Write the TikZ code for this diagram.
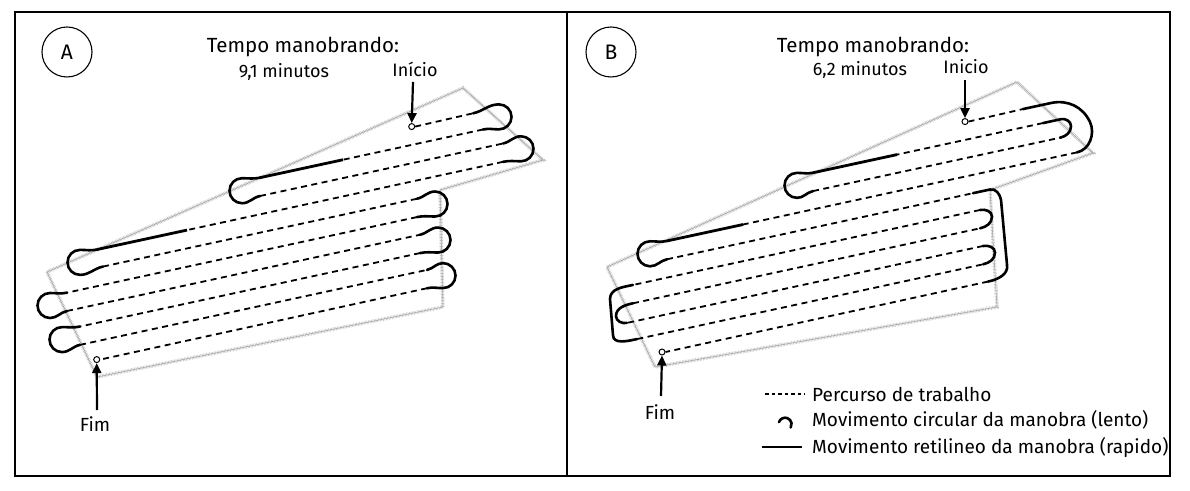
\documentclass[tikz,border=0pt]{standalone}
\usepackage{fontspec}
\setmainfont{Fira Sans}
\usetikzlibrary{arrows.meta}
\newcommand\Y[2]{274.5-18.33*(#1-1)+0.216*(#2)}
\newcommand\LP[2]{(#2,{\Y{#1}{#2}})}
\newcommand\loopR[4]{\draw[turn] (#2,{\Y{#1}{#2}}) to[out=12,in=180] (#4,{\Y{#1+0.5}{#4}+12.5}) arc[start angle=90,end angle=-90,radius=12.5] to[out=180,in=12] (#3,{\Y{#1+1}{#3}});}
\newcommand\loopL[4]{\draw[turn] (#2,{\Y{#1}{#2}}) to[out=192,in=0] (#4,{\Y{#1+0.5}{#4}+12.5}) arc[start angle=90,end angle=270,radius=12.5] to[out=0,in=192] (#3,{\Y{#1+1}{#3}});}
\tikzset{
 work/.style={line width=1.8pt, dash pattern=on 6pt off 4.5pt},
 turn/.style={line width=2.6pt, line cap=round},
 straightm/.style={line width=2.8pt},
 field/.style={gray!70, line width=0.6pt},
 hatch/.style={gray!45, line width=3.5pt, dash pattern=on 0.6pt off 0.9pt},
 arr/.style={line width=2.2pt, -{Triangle[length=10pt,width=9pt]}},
 lbl/.style={font=\fontsize{19}{21}\selectfont, inner sep=0pt},
 mins/.style={font=\fontsize{18}{20}\selectfont, inner sep=0pt},
 ttl/.style={font=\fontsize{20.5}{22}\selectfont, inner sep=0pt},
 mk/.style={circle, draw, line width=1pt, minimum size=6pt, inner sep=0pt},
 badge/.style={circle, draw, line width=1.1pt, minimum size=50pt, inner sep=0pt, font=\fontsize{21}{22}\selectfont}
}
\begin{document}
\begin{tikzpicture}[x=1pt,y=1pt]
\useasboundingbox (0,0) rectangle (1190,490);
\fill[white] (0,0) rectangle (1190,490);
% frames
\draw[line width=1.4pt] (15,14) rectangle (1170,478);
\draw[line width=1.4pt] (567,14) -- (567,478);
% fields
\foreach \s in {hatch,field}{
 \draw[\s] (47,218) -- (463,402) -- (543,330) -- (440,300) -- (443,183) -- (97,113) -- cycle;
 \draw[\s] (607,223) -- (1017,408) -- (1093,337) -- (990,300) -- (997,183) -- (655,123) -- cycle;
}
% ---------- Panel A ----------
\node[badge] (bA) at (67,438) {A};
\node[ttl] (tA) at (303,443) {Tempo manobrando:};
\node[mins] (mA) at (284,418) {9,1 minutos};
\node[mins] (iA) at (415,421) {Início};
\node[mk] (sA) at \LP{1}{411.7} {};
\node[mk] (fA) at \LP{10}{96.7} {};
\node[lbl] (fimA) at (95,66) {Fim};
\draw[arr] (413,408) -- (sA.north);
\draw[arr] (97,80) -- (fA.south);
\draw[work] (sA.east) -- \LP{1}{473};
\draw[work] \LP{2}{483} -- \LP{2}{343};
\draw[straightm] \LP{2}{343} -- \LP{2}{260};
\draw[work] \LP{3}{260} -- \LP{3}{503};
\draw[work] \LP{4}{503} -- \LP{4}{187};
\draw[straightm] \LP{4}{187} -- \LP{4}{97};
\draw[work] \LP{5}{103} -- \LP{5}{417};
\draw[work] \LP{6}{417} -- \LP{6}{67};
\draw[work] \LP{7}{67} -- \LP{7}{420};
\draw[work] \LP{8}{420} -- \LP{8}{80};
\draw[work] \LP{9}{80} -- \LP{9}{427};
\draw[work] \LP{10}{427} -- (fA.east);
\loopR{1}{473}{483}{499}
\loopL{2}{260}{260}{242}
\loopR{3}{503}{503}{521}
\loopL{4}{97}{103}{80}
\loopR{5}{417}{417}{435}
\loopL{6}{67}{67}{50}
\loopR{7}{420}{420}{438}
\loopL{8}{80}{80}{62}
\loopR{9}{427}{427}{443}
% ---------- Panel B ----------
\node[badge] (bB) at (611,438) {B};
\node[ttl] (tB) at (873,443) {Tempo manobrando:};
\node[mins] (mB) at (860,420) {6,2 minutos};
\node[mins] (iB) at (966,423) {Inicio};
\node[lbl] (fimB) at (660,78) {Fim};
\begin{scope}[shift={(558,6)}]
\node[mk] (sB) at \LP{1}{407} {};
\node[mk] (fB) at \LP{10}{104} {};
\draw[work] (sB.east) -- \LP{1}{465};
\draw[turn] (465,{\Y{1}{465}}) -- (493,{\Y{1}{493}}) to[out=12,in=115] (532,{\Y{2.5}{532}}) to[out=-65,in=12] (519,{\Y{4}{519}});
\draw[work] \LP{2}{485} -- \LP{2}{339};
\draw[turn] (485,{\Y{2}{485}}) -- (503,{\Y{2}{503}}) to[out=12,in=90] (513,{\Y{2.5}{513}}) to[out=-90,in=12] (502,{\Y{3}{502}});
\draw[straightm] \LP{2}{339} -- \LP{2}{255};
\draw[work] \LP{3}{255} -- \LP{3}{502};
\draw[work] \LP{4}{519} -- \LP{4}{185};
\draw[straightm] \LP{4}{185} -- \LP{4}{109};
\loopL{2}{255}{255}{239}
\loopL{4}{109}{109}{92}
\draw[work] \LP{5}{109} -- \LP{5}{415};
\draw[work] \LP{6}{422} -- \LP{6}{75};
\draw[work] \LP{7}{75} -- \LP{7}{422};
\draw[work] \LP{8}{425} -- \LP{8}{69};
\draw[work] \LP{9}{69} -- \LP{9}{425};
\draw[work] \LP{10}{430} -- (fB.east);
\draw[turn] (415,{\Y{5}{415}}) -- (432,{\Y{5}{432}}) to[out=12,in=100] (443,{\Y{5.7}{443}}) -- (449,{\Y{9.3}{449}}) to[out=-80,in=12] (430,{\Y{10}{430}});
\draw[turn] (422,{\Y{6}{422}}) to[out=12,in=90] (434,{\Y{6.5}{434}}) to[out=-90,in=12] (422,{\Y{7}{422}});
\draw[turn] (425,{\Y{8}{425}}) to[out=12,in=90] (437,{\Y{8.5}{437}}) to[out=-90,in=12] (425,{\Y{9}{425}});
\draw[turn] (75,{\Y{6}{75}}) to[out=192,in=90] (52,{\Y{6.5}{52}}) -- (55,{\Y{8.5}{55}}) to[out=-90,in=192] (79,{\Y{9}{79}});
\draw[turn] (75,{\Y{7}{75}}) to[out=192,in=90] (58,{\Y{7.5}{58}}) to[out=-90,in=192] (69,{\Y{8}{69}});
\end{scope}
\draw[arr] (965,410) -- (sB.north);
\draw[arr] (661,94) -- (fB.south);
% legend
\coordinate (l1a) at (765,96); \coordinate (l1b) at (805,96);
\draw[line width=1.2pt, dash pattern=on 3.5pt off 3pt] (l1a) -- (l1b);
\node[lbl, anchor=west] (t1) at (812,96) {Percurso de trabalho};
\coordinate (l2c) at (785,68);
\draw[turn] (l2c) ++(-6,0) arc[start angle=160,end angle=-30,radius=6.5];
\node[lbl, anchor=west] (t2) at (812,70) {Movimento circular da manobra (lento)};
\coordinate (l3a) at (762,43); \coordinate (l3b) at (802,43);
\draw[straightm] (l3a) -- (l3b);
\node[lbl, anchor=west] (t3) at (812,43) {Movimento retilineo da manobra (rapido)};
\end{tikzpicture}
\end{document}
